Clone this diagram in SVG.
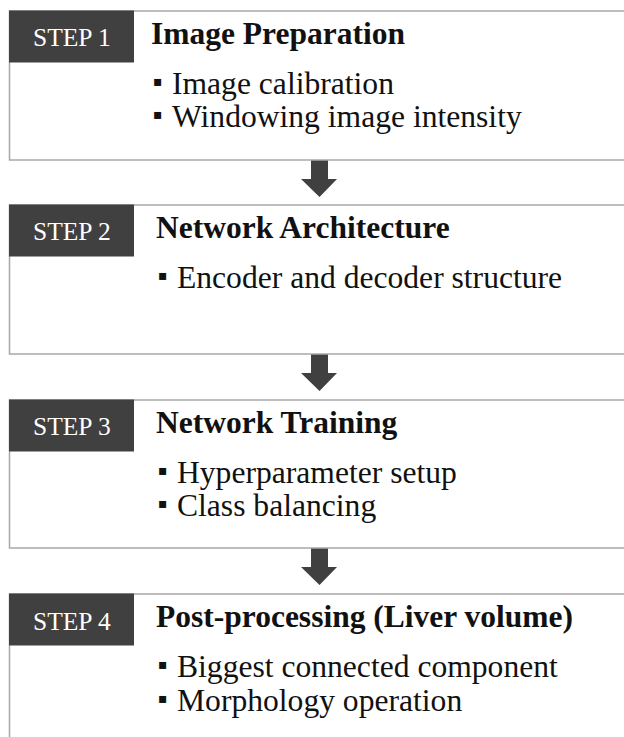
<svg xmlns="http://www.w3.org/2000/svg" width="624" height="737" viewBox="0 0 624 737">
<style>
.box{fill:#fff;stroke:#a8a8a8;stroke-width:1.5}
.lab{fill:#404040}
.step{font-family:"Liberation Serif","Times New Roman",serif;font-size:25.5px;fill:#fff}
.title{font-family:"Liberation Serif","Times New Roman",serif;font-size:31.5px;font-weight:bold;fill:#111}
.item{font-family:"Liberation Serif","Times New Roman",serif;font-size:31.6px;fill:#111}
.bul{font-family:"DejaVu Sans",sans-serif;font-size:14px;fill:#111}
.arr{fill:#404040}
</style>
<rect width="624" height="737" fill="#fff"/>
<g id="connectors">
<polygon class="arr" points="311,160 328,160 328,179 337,179 319.5,197 301,179 311,179"/>
<polygon class="arr" points="311,354 328,354 328,373 337,373 319.5,391 301,373 311,373"/>
<polygon class="arr" points="311,548 328,548 328,567 337,567 319.5,585 301,567 311,567"/>
</g>
<g id="step1">
<rect class="box" x="9.5" y="11" width="640" height="149"/>
<rect class="lab" x="9" y="10.5" width="125" height="52"/>
<text class="step" x="33" y="46">STEP 1</text>
<text class="title" x="151" y="44">Image Preparation</text>
<text class="bul" x="153" y="86">▪</text>
<text class="item" x="172" y="94">Image calibration</text>
<text class="bul" x="153" y="119">▪</text>
<text class="item" x="172" y="127">Windowing image intensity</text>
</g>
<g id="step2">
<rect class="box" x="9.5" y="205" width="640" height="149"/>
<rect class="lab" x="9" y="204.5" width="125" height="52"/>
<text class="step" x="33" y="240">STEP 2</text>
<text class="title" x="156" y="238">Network Architecture</text>
<text class="bul" x="158" y="280">▪</text>
<text class="item" x="177" y="288">Encoder and decoder structure</text>
</g>
<g id="step3">
<rect class="box" x="9.5" y="400" width="640" height="148"/>
<rect class="lab" x="9" y="399.5" width="125" height="52"/>
<text class="step" x="33" y="435">STEP 3</text>
<text class="title" x="156" y="433">Network Training</text>
<text class="bul" x="158" y="475">▪</text>
<text class="item" x="177" y="483">Hyperparameter setup</text>
<text class="bul" x="158" y="508">▪</text>
<text class="item" x="177" y="516">Class balancing</text>
</g>
<g id="step4">
<rect class="box" x="9.5" y="594" width="640" height="160"/>
<rect class="lab" x="9" y="593.5" width="125" height="52"/>
<text class="step" x="33" y="630">STEP 4</text>
<text class="title" x="156" y="627">Post-processing (Liver volume)</text>
<text class="bul" x="158" y="669">▪</text>
<text class="item" x="177" y="677">Biggest connected component</text>
<text class="bul" x="158" y="703">▪</text>
<text class="item" x="177" y="711">Morphology operation</text>
</g>
</svg>
